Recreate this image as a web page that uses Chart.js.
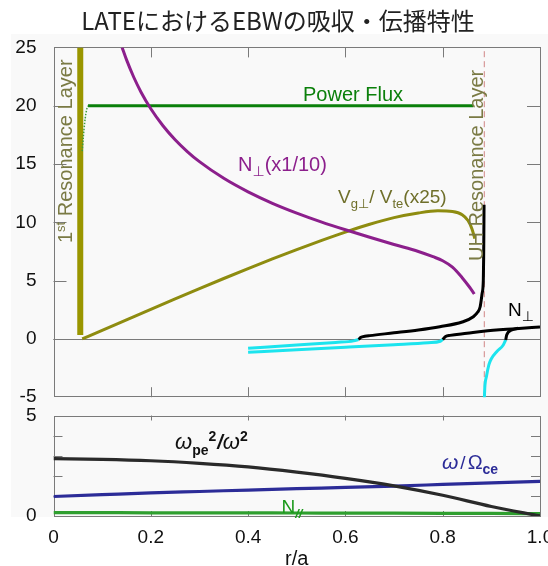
<!DOCTYPE html>
<html>
<head>
<meta charset="utf-8">
<script src="https://cdn.jsdelivr.net/npm/chart.js@4.4.0/dist/chart.umd.min.js"></script>
<style>
  html, body { margin: 0; padding: 0; background: #fff; overflow: hidden; width: 548px; height: 566px; }
  canvas { position: absolute; left: 0; top: 0; }
</style>
</head>
<body>
<canvas id="upper" width="548" height="566"></canvas>
<canvas id="lower" width="548" height="590"></canvas>
<script>
// ---------- data ----------
const titleText = 'LATEにおけるEBWの吸収・伝播特性';

const xTickValues = [0, 0.2, 0.4, 0.6, 0.8, 1.0];
const xTickLabels = ['0', '0.2', '0.4', '0.6', '0.8', '1.0'];
const upperYTicks = [-5, 0, 5, 10, 15, 20, 25];
const lowerYTicks = [0, 1, 2, 3, 4, 5];
const lowerYLabels = ['0', '', '', '', '', '5'];

// resonance layers (r/a)
const firstResR = [0.055, 0.055];
const firstResV = [0.33, 25];
const uhResR = [0.8855, 0.8855];
const uhResV = [-5, 25];

// power flux
const fluxRampR = [0.059, 0.0615, 0.064, 0.0665, 0.069, 0.071];
const fluxRampV = [16.1, 17.4, 18.5, 19.3, 19.8, 20];
const fluxR = [0.071, 0.863];
const fluxV = [20, 20];

// N_perp (x1/10)
const nPerpTenthR = [0.141, 0.15, 0.165, 0.18, 0.2, 0.225, 0.25, 0.275, 0.3, 0.35, 0.4, 0.45, 0.5, 0.55, 0.6, 0.65, 0.7, 0.75, 0.78, 0.8, 0.82, 0.84, 0.855, 0.865];
const nPerpTenthV = [25, 23.95, 22.44, 21.16, 19.74, 18.28, 17.08, 16.07, 15.2, 13.77, 12.61, 11.63, 10.79, 10.04, 9.36, 8.72, 8.1, 7.5, 7.05, 6.7, 6.15, 5.25, 4.45, 3.85];

// V_g_perp / V_te (x25)
const vgR = [0.059, 0.1, 0.15, 0.2, 0.25, 0.3, 0.35, 0.4, 0.45, 0.5, 0.55, 0.6, 0.65, 0.7, 0.75, 0.79, 0.82, 0.84, 0.852, 0.86, 0.866];
const vgV = [0, 0.74, 1.64, 2.54, 3.43, 4.31, 5.18, 6.03, 6.86, 7.66, 8.43, 9.16, 9.83, 10.4, 10.8, 10.98, 10.92, 10.65, 10.15, 9.45, 8.6];

// N_perp branches: black (positive part), cyan (negative part)
const branchAPosR = [0.627, 0.632, 0.64, 0.65, 0.7, 0.75, 0.794, 0.84, 0.863, 0.872, 0.877, 0.881, 0.8835, 0.8842, 0.8846, 0.885];
const branchAPosV = [-0.05, 0.14, 0.22, 0.28, 0.52, 0.77, 1.05, 1.45, 1.9, 2.3, 2.76, 3.9, 5.05, 7, 9, 11.5];
const branchANegR = [0.40, 0.5, 0.58, 0.617, 0.627];
const branchANegV = [-0.81, -0.52, -0.3, -0.17, -0.05];

const branchBPosR = [0.80, 0.806, 0.815, 0.85, 0.8835, 0.95, 1.0];
const branchBPosV = [-0.05, 0.2, 0.3, 0.48, 0.66, 0.88, 1.03];
const branchBNegR = [0.40, 0.5, 0.6, 0.7, 0.77, 0.795, 0.80];
const branchBNegV = [-1.15, -0.93, -0.72, -0.5, -0.33, -0.2, -0.05];

const branchCPosR = [0.9295, 0.9315, 0.942, 0.955];
const branchCPosV = [-0.09, 0.33, 0.76, 0.91];
const branchCNegR = [0.8855, 0.8865, 0.890, 0.895, 0.90, 0.911, 0.9245, 0.9295];
const branchCNegV = [-5.3, -4.2, -3.2, -2.2, -1.7, -1.1, -0.52, -0.09];

// lower panel
const profileR = [0, 0.1, 0.2, 0.3, 0.4, 0.5, 0.6, 0.7, 0.8, 0.9, 1.0];
const wpe2OverW2 = [2.85, 2.82, 2.75, 2.62, 2.44, 2.18, 1.87, 1.5, 1.03, 0.47, 0.0];
const wOverWce = [0.97, 1.06, 1.15, 1.22, 1.29, 1.36, 1.42, 1.49, 1.57, 1.65, 1.72];
const nParallel = [0.17, 0.165, 0.16, 0.16, 0.155, 0.15, 0.145, 0.14, 0.135, 0.13, 0.12];

// ---------- helpers ----------
const SANS = '"Liberation Sans", Arial, Helvetica, "DejaVu Sans", sans-serif';
const pts = (rs, vs) => rs.map((r, i) => ({ x: r, y: vs[i] }));
const line = (data, color, width, extra) => Object.assign({
  data, borderColor: color, borderWidth: width, pointRadius: 0, fill: false,
  cubicInterpolationMode: 'monotone'
}, extra || {});

function richText(ctx, parts, x, y, color) {
  let cx = x;
  ctx.textAlign = 'left';
  ctx.textBaseline = 'alphabetic';
  for (const p of parts) {
    ctx.font = p.font;
    ctx.fillStyle = p.color || color;
    ctx.fillText(p.t, cx, y + (p.dy || 0));
    cx += ctx.measureText(p.t).width + (p.gap || 0);
  }
}

function framePlugin(o) {
  return {
    id: 'frame',
    beforeDraw(chart) {
      const ctx = chart.ctx;
      if (o.background) {
        ctx.save();
        ctx.fillStyle = o.background;
        ctx.fillRect(11, 34, 537, 483);
        ctx.restore();
      }
      if (o.title) {
        ctx.save();
        ctx.font = '24px "Noto Sans CJK JP", "Noto Sans CJK SC", sans-serif';
        ctx.fillStyle = '#222';
        ctx.textAlign = 'center';
        ctx.textBaseline = 'middle';
        ctx.fillText(o.title, 278, 21);
        ctx.restore();
      }
    },
    beforeDatasetsDraw(chart) {
      const { ctx, chartArea: a, scales: { x, y } } = chart;
      ctx.save();
      ctx.strokeStyle = '#7a7a7a';
      ctx.lineWidth = 1;
      ctx.strokeRect(Math.round(a.left) + 0.5, Math.round(a.top) + 0.5,
        Math.round(a.right - a.left) - 1, Math.round(a.bottom - a.top) - 1);
      ctx.beginPath();
      for (const v of xTickValues) {
        if (v <= x.min || v >= x.max) continue;
        const px = Math.round(x.getPixelForValue(v)) + 0.5;
        ctx.moveTo(px, a.top); ctx.lineTo(px, a.top + o.xLen);
        ctx.moveTo(px, a.bottom); ctx.lineTo(px, a.bottom - o.xLen);
      }
      for (const v of o.yTicks) {
        if (v <= y.min || v >= y.max) continue;
        const py = Math.round(y.getPixelForValue(v)) + 0.5;
        ctx.moveTo(a.left, py); ctx.lineTo(a.left + o.yLen, py);
        ctx.moveTo(a.right, py); ctx.lineTo(a.right - o.yLen, py);
      }
      if (o.zeroLine) {
        const pz = Math.round(y.getPixelForValue(0)) + 0.5;
        ctx.moveTo(a.left, pz); ctx.lineTo(a.right, pz);
      }
      ctx.stroke();
      ctx.restore();
    },
    afterDatasetsDraw(chart) {
      if (o.labels) { chart.ctx.save(); o.labels(chart.ctx, chart); chart.ctx.restore(); }
    }
  };
}

const yAxisBase = (min, max, values, labels, pad) => ({
  type: 'linear', min, max,
  afterBuildTicks: s => { s.ticks = values.map(v => ({ value: v })); },
  afterFit: s => { s.width = 53.5; s.paddingTop = 0; s.paddingBottom = 0; },
  ticks: {
    padding: pad, color: '#111', autoSkip: false, font: { family: SANS, size: 19 },
    callback: (v, i) => labels ? labels[i] : String(v)
  },
  grid: { display: false, drawTicks: false },
  border: { display: false }
});

// ---------- upper panel ----------
const OLIVE = '#8e8c10';
const OLIVE_TEXT = '#7a7a44';
const PURPLE = '#8c1f8c';
const GREEN = '#0b800b';
const CYAN = '#1ce4ee';

new Chart(document.getElementById('upper'), {
  type: 'line',
  data: {
    datasets: [
      line(pts(branchAPosR, branchAPosV), '#000', 3),
      line(pts(branchBPosR, branchBPosV), '#000', 3),
      line(pts(branchCPosR, branchCPosV), '#000', 3),
      line(pts(branchANegR, branchANegV), CYAN, 3),
      line(pts(branchBNegR, branchBNegV), CYAN, 3),
      line(pts(branchCNegR, branchCNegV), CYAN, 3),
      line(pts(uhResR, uhResV), '#d08585', 1, { borderDash: [6, 4], cubicInterpolationMode: 'default', tension: 0 }),
      line(pts(nPerpTenthR, nPerpTenthV), PURPLE, 3),
      line(pts(vgR, vgV), OLIVE, 3),
      line(pts(fluxR, fluxV), GREEN, 3, { cubicInterpolationMode: 'default', tension: 0 }),
      line(pts(fluxRampR, fluxRampV), '#3c9c3c', 1.5, { borderDash: [1.5, 1.5] }),
      line(pts(firstResR, firstResV), '#9a9600', 6, { cubicInterpolationMode: 'default', tension: 0 })
    ]
  },
  options: {
    responsive: false, animation: false, devicePixelRatio: 1,
    layout: { padding: { left: 0, right: 8, top: 47.4, bottom: 168.8 } },
    plugins: { legend: { display: false }, tooltip: { enabled: false } },
    scales: {
      x: { type: 'linear', min: 0, max: 1, display: false },
      y: yAxisBase(-5, 25, upperYTicks, null, 17)
    }
  },
  plugins: [framePlugin({
    background: '#f9f9f9', title: titleText, xLen: 10, yLen: 13, yTicks: upperYTicks, zeroLine: true,
    labels(ctx) {
      const F = s => s + 'px ' + SANS;
      richText(ctx, [{ t: 'Power Flux', font: F(20) }], 303, 100.5, GREEN);
      richText(ctx, [
        { t: 'N', font: F(20) },
        { t: '⊥', font: F(14), dy: 5 },
        { t: '(x1/10)', font: F(20) }
      ], 238, 170.7, PURPLE);
      richText(ctx, [
        { t: 'V', font: F(19) },
        { t: 'g⊥', font: F(13), dy: 5 },
        { t: '/ V', font: F(19) },
        { t: 'te', font: F(13), dy: 5 },
        { t: '(x25)', font: F(19) }
      ], 338, 203.3, '#6f6f2a');
      richText(ctx, [
        { t: 'N', font: F(19) },
        { t: '⊥', font: F(14), dy: 5 }
      ], 508, 316, '#000');
      // rotated layer labels
      ctx.save();
      ctx.translate(72, 243);
      ctx.rotate(-Math.PI / 2);
      richText(ctx, [
        { t: '1', font: F(20) },
        { t: 'st', font: F(13), dy: -7 },
        { t: ' Resonance Layer', font: F(20) }
      ], 0, 0, OLIVE_TEXT);
      ctx.restore();
      ctx.save();
      ctx.translate(483, 261);
      ctx.rotate(-Math.PI / 2);
      richText(ctx, [{ t: 'UH Resonance Layer', font: F(20) }], 0, 0, OLIVE_TEXT);
      ctx.restore();
    }
  })]
});

// ---------- lower panel ----------
const NAVY = '#2c2c98';
new Chart(document.getElementById('lower'), {
  type: 'line',
  data: {
    datasets: [
      line(pts(profileR, wpe2OverW2), '#2a2a2a', 3.2),
      line(pts(profileR, wOverWce), NAVY, 3.2),
      line(pts(profileR, nParallel), '#2f9f2f', 3.2)
    ]
  },
  options: {
    responsive: false, animation: false, devicePixelRatio: 1,
    layout: { padding: { left: 0, right: 8, top: 415.5, bottom: 0 } },
    plugins: { legend: { display: false }, tooltip: { enabled: false } },
    scales: {
      x: {
        type: 'linear', min: 0, max: 1,
        afterBuildTicks: s => { s.ticks = xTickValues.map(v => ({ value: v })); },
        afterFit: s => { s.height = 74; s.paddingLeft = 0; s.paddingRight = 0; },
        ticks: {
          padding: 10, color: '#111', maxRotation: 0, autoSkip: false,
          font: { family: SANS, size: 19 },
          callback: (v, i) => xTickLabels[i]
        },
        grid: { display: false, drawTicks: false },
        border: { display: false },
        title: { display: true, text: 'r/a', color: '#111', font: { family: SANS, size: 20 }, padding: { top: 0, bottom: 18.5 } }
      },
      y: yAxisBase(0, 5, lowerYTicks, lowerYLabels, 17)
    }
  },
  plugins: [framePlugin({
    xLen: 5, yLen: 9, yTicks: lowerYTicks,
    labels(ctx) {
      const F = (s, w) => (w || '') + ' ' + s + 'px ' + SANS;
      richText(ctx, [
        { t: 'ω', font: F(22, 'italic') },
        { t: 'pe', font: F(14, 'bold'), dy: 6 },
        { t: '2', font: F(14, 'bold'), dy: -8, gap: 1 },
        { t: '/', font: F(20, 'italic bold') },
        { t: 'ω', font: F(22, 'italic') },
        { t: '2', font: F(14, 'bold'), dy: -8 }
      ], 175, 449, '#111');
      richText(ctx, [
        { t: 'ω', font: F(21, 'italic'), gap: 2 },
        { t: '/', font: F(19), gap: 2 },
        { t: 'Ω', font: F(20) },
        { t: 'ce', font: F(14, 'bold'), dy: 5 }
      ], 442, 469.3, NAVY);
      richText(ctx, [
        { t: 'N', font: F(19) },
        { t: '//', font: F(13, 'italic bold'), dy: 5 }
      ], 281.5, 513.3, '#1c9a1c');
    }
  })]
});
</script>
</body>
</html>
